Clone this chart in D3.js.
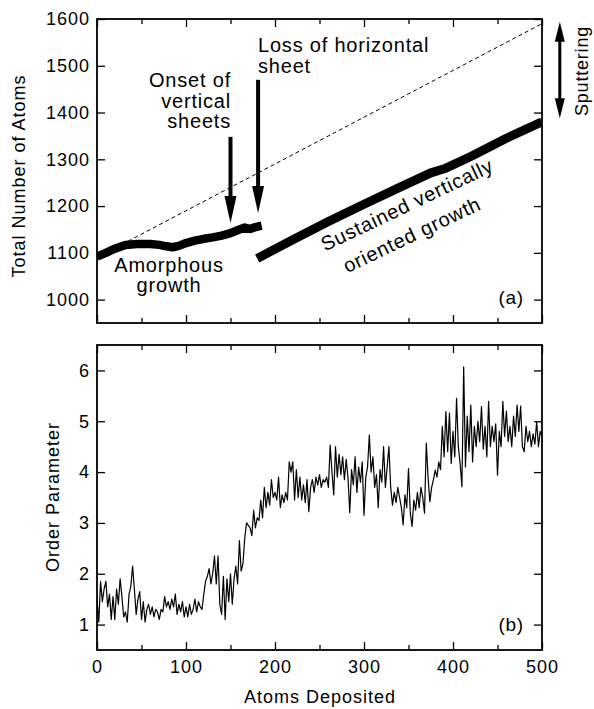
<!DOCTYPE html>
<html><head><meta charset="utf-8">
<script src="https://cdn.jsdelivr.net/npm/d3@7"></script>
<style>
body{margin:0;background:#fff}
svg text{font-family:"Liberation Sans",Arial,Helvetica,sans-serif;fill:#000}
</style></head><body>
<svg id="c" width="594" height="709"></svg>
<script>
// ---------- data ----------
const xTicks = [0, 100, 200, 300, 400, 500];
const xMinorTicks = [50, 150, 250, 350, 450];
const atomTicks = [1000, 1100, 1200, 1300, 1400, 1500, 1600];
const orderTicks = [1, 2, 3, 4, 5, 6];

// (a) total number of atoms: amorphous segment and vertically oriented segment
const seg1X = [0, 10, 20, 32, 45, 60, 70, 78, 85, 92, 100, 110, 120, 130, 140, 150, 160, 166, 172, 178, 185];
const seg1Y = [1092, 1100, 1109, 1117, 1119, 1119, 1117, 1114, 1112, 1115, 1121, 1126, 1130, 1133, 1137, 1142, 1150, 1154, 1151, 1155, 1158];
const seg2X = [180, 220, 260, 300, 340, 375, 392, 420, 460, 500];
const seg2Y = [1088, 1128, 1167, 1204, 1240, 1271, 1281, 1306, 1345, 1380];
// ideal (no sputtering) dashed reference line
const idealX = [35, 500];
const idealY = [1125, 1590];

// (b) order parameter, one value every 2 atoms deposited (0..500)
const orderStep = 2;
const orderValues = [
 1.5, 1.05, 1.85, 1.45, 1.7, 1.85, 1.35, 1.6, 1.1, 1.55,
 1.1, 1.7, 1.4, 1.9, 1.55, 1.15, 1.25, 1.05, 1.6, 1.75,
 2.15, 1.7, 1.2, 1.5, 1.65, 1.1, 1.45, 1.05, 1.3, 1.4,
 1.2, 1.35, 1.15, 1.3, 1.25, 1.1, 1.3, 1.25, 1.55, 1.35,
 1.45, 1.3, 1.5, 1.35, 1.6, 1.2, 1.4, 1.25, 1.45, 1.15,
 1.35, 1.15, 1.4, 1.2, 1.3, 1.5, 1.25, 1.45, 1.35, 1.3,
 1.6, 1.85, 1.95, 2.1, 1.8, 2.0, 2.35, 1.8, 2.35, 1.4,
 1.2, 1.95, 1.1, 1.9, 1.45, 2.0, 1.4, 1.9, 2.15, 1.8,
 2.65, 2.05, 2.2, 2.7, 3.0, 2.95, 2.9, 2.75, 3.25, 2.9,
 3.1, 3.05, 3.45, 3.1, 3.7, 3.3, 3.6, 3.35, 3.85, 3.5,
 3.6, 3.45, 3.9, 3.3, 3.55, 3.4, 3.6, 3.45, 4.2, 4.0,
 4.2, 3.45, 4.05, 3.5, 3.9, 3.45, 3.75, 3.4, 3.85, 3.22,
 3.7, 3.85, 3.6, 3.9, 3.75, 3.95, 3.7, 3.85, 3.8, 3.9,
 3.7, 4.53, 4.0, 3.55, 4.5, 3.9, 4.35, 3.95, 4.3, 3.85,
 4.25, 3.9, 3.2, 4.05, 3.75, 4.3, 3.6, 4.1, 3.8, 4.2,
 3.15, 3.9, 4.1, 4.73, 4.0, 4.3, 3.7, 3.95, 3.3, 4.05,
 3.8, 4.5, 3.7, 4.1, 4.5, 3.7, 3.35, 3.6, 3.4, 3.7,
 3.5, 3.3, 2.96, 3.55, 3.3, 4.07, 3.2, 2.93, 3.45, 3.25,
 3.6, 3.3, 3.7, 3.5, 3.19, 4.57, 3.9, 3.42, 3.7, 3.85,
 4.04, 3.9, 4.2, 4.05, 4.9, 4.3, 5.19, 4.4, 5.16, 4.17,
 4.8, 4.3, 5.45, 4.5, 4.17, 3.71, 6.07, 4.1, 5.1, 4.4,
 5.32, 4.2, 4.9, 4.5, 5.0, 4.6, 5.29, 4.45, 4.9, 4.3,
 5.39, 4.5, 4.9, 4.6, 4.95, 3.94, 4.8, 4.5, 5.39, 4.7,
 5.2, 4.6, 4.9, 4.5, 5.1, 4.7, 5.32, 4.8, 5.3, 4.5,
 4.4, 4.9, 4.6, 4.8, 4.5, 4.75, 4.55, 4.99, 4.5, 4.8,
 4.7
];

// annotation arrows (a)
const arrowX = [150, 181];
const arrowFrom = [1348, 1470];
const arrowTo = [1164, 1185];
const sputterX = 520;
const sputterRange = [1388, 1594];

// ---------- scales ----------
const svg = d3.select("#c");
svg.append("rect").attr("width", 594).attr("height", 709).attr("fill", "#fff");

const x = d3.scaleLinear().domain([0, 500]).range([97, 542]);
const yA = d3.scaleLinear().domain([950, 1600]).range([323, 19]);
const yB = d3.scaleLinear().domain([0.5, 6.5]).range([650, 345]);

const FS = 18, LS = "1px";
const fmt = d3.format("d");

function frame(y, yTicks, showX) {
  const g = svg.append("g");
  const [y0, y1] = y.range();
  const axStyle = sel => {
    sel.select(".domain").remove();
    sel.selectAll("line").attr("stroke", "#000").attr("stroke-width", 1.3);
    sel.selectAll("text").attr("font-size", FS).style("letter-spacing", LS)
      .attr("font-family", '"Liberation Sans", Arial, sans-serif');
  };
  g.append("g").attr("transform", `translate(${x(0)},0)`)
    .call(d3.axisLeft(y).tickValues(yTicks).tickSize(-8).tickPadding(7).tickFormat(fmt)).call(axStyle);
  g.append("g").attr("transform", `translate(${x(500)},0)`)
    .call(d3.axisRight(y).tickValues(yTicks).tickSize(-8).tickFormat("")).call(axStyle);
  g.append("g").attr("transform", `translate(0,${y1})`)
    .call(d3.axisTop(x).tickValues(xTicks).tickSize(-8).tickFormat("")).call(axStyle);
  g.append("g").attr("transform", `translate(0,${y1})`)
    .call(d3.axisTop(x).tickValues(xMinorTicks).tickSize(-5).tickFormat("")).call(axStyle);
  const bot = d3.axisBottom(x).tickValues(xTicks).tickSize(-8).tickPadding(10).tickFormat(showX ? fmt : "");
  g.append("g").attr("transform", `translate(0,${y0})`).call(bot).call(axStyle);
  g.append("g").attr("transform", `translate(0,${y0})`)
    .call(d3.axisBottom(x).tickValues(xMinorTicks).tickSize(-5).tickFormat("")).call(axStyle);
  g.append("rect").attr("x", x(0)).attr("y", y1).attr("width", x(500) - x(0)).attr("height", y0 - y1)
    .attr("fill", "none").attr("stroke", "#000").attr("stroke-width", 1.8);
}

// ---------- panel (a) ----------
const clipA = svg.append("clipPath").attr("id", "clipA");
clipA.append("rect").attr("x", x(0)).attr("y", yA(1600)).attr("width", x(500) - x(0)).attr("height", yA(950) - yA(1600));

const gA = svg.append("g").attr("clip-path", "url(#clipA)");
const line = (xs, ys, ysc) => d3.line().x((d, i) => x(xs[i])).y((d, i) => ysc(ys[i]))(xs);

gA.append("path").attr("d", line(idealX, idealY, yA)).attr("fill", "none")
  .attr("stroke", "#000").attr("stroke-width", 1).attr("stroke-dasharray", "4,3");
gA.append("path").attr("d", line(seg1X, seg1Y, yA)).attr("fill", "none")
  .attr("stroke", "#000").attr("stroke-width", 8.5).attr("stroke-linejoin", "round");
gA.append("path").attr("d", line(seg2X, seg2Y, yA)).attr("fill", "none")
  .attr("stroke", "#000").attr("stroke-width", 9).attr("stroke-linejoin", "round");

frame(yA, atomTicks, false);

arrowX.forEach((ax, i) => {
  const px = x(ax), tip = yA(arrowTo[i]), top = yA(arrowFrom[i]);
  svg.append("line").attr("x1", px).attr("x2", px).attr("y1", top).attr("y2", tip - 20)
    .attr("stroke", "#000").attr("stroke-width", 4);
  svg.append("path").attr("d", `M${px - 6},${tip - 27}L${px + 6},${tip - 27}L${px},${tip}Z`).attr("fill", "#000");
});
{
  const px = x(sputterX), t = yA(sputterRange[1]), b = yA(sputterRange[0]);
  svg.append("line").attr("x1", px).attr("x2", px).attr("y1", t + 15).attr("y2", b - 15)
    .attr("stroke", "#000").attr("stroke-width", 3);
  svg.append("path").attr("d", `M${px - 5},${t + 20}L${px + 5},${t + 20}L${px},${t}Z`).attr("fill", "#000");
  svg.append("path").attr("d", `M${px - 5},${b - 20}L${px + 5},${b - 20}L${px},${b}Z`).attr("fill", "#000");
}

const txt = (s, px, py, anchor, size, extra) => {
  const t = svg.append("text").attr("x", px).attr("y", py).attr("text-anchor", anchor)
    .attr("font-size", size).style("letter-spacing", "0.8px").text(s);
  if (extra) t.attr("transform", extra);
  return t;
};
txt("Loss of horizontal", 258, 52, "start", 20);
txt("sheet", 258, 72.5, "start", 20);
txt("Onset of", 231, 87, "end", 20);
txt("vertical", 231, 107.5, "end", 20);
txt("sheets", 231, 128, "end", 20);
txt("Amorphous", 169, 272, "middle", 20);
txt("growth", 169, 292, "middle", 20);
txt("Sustained vertically", 0, 0, "middle", 20, "translate(410,211) rotate(-25.5)");
txt("oriented growth", 0, 0, "middle", 20, "translate(415,241) rotate(-25.5)");
txt("(a)", 524, 304, "end", 19);
svg.append("text").attr("transform", "translate(588,71) rotate(-90)").attr("text-anchor", "middle")
  .attr("font-size", 18).style("letter-spacing", "0.8px").text("Sputtering");
svg.append("text").attr("transform", "translate(25,176) rotate(-90)").attr("text-anchor", "middle")
  .attr("font-size", FS).style("letter-spacing", LS).text("Total Number of Atoms");

// ---------- panel (b) ----------
const clipB = svg.append("clipPath").attr("id", "clipB");
clipB.append("rect").attr("x", x(0)).attr("y", yB(6.5)).attr("width", x(500) - x(0)).attr("height", yB(0.5) - yB(6.5));
svg.append("g").attr("clip-path", "url(#clipB)").append("path")
  .datum(orderValues)
  .attr("d", d3.line().x((d, i) => x(i * orderStep)).y(d => yB(d)))
  .attr("fill", "none").attr("stroke", "#000").attr("stroke-width", 1.2).attr("stroke-linejoin", "round");

frame(yB, orderTicks, true);
txt("(b)", 524, 631, "end", 19);
svg.append("text").attr("transform", "translate(59,497) rotate(-90)").attr("text-anchor", "middle")
  .attr("font-size", FS).style("letter-spacing", LS).text("Order Parameter");
svg.append("text").attr("x", 320).attr("y", 703).attr("text-anchor", "middle")
  .attr("font-size", FS).style("letter-spacing", LS).text("Atoms Deposited");
</script>
</body></html>
